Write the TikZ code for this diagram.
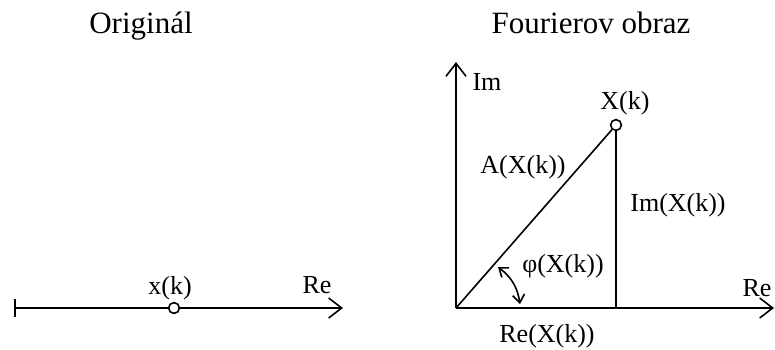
\documentclass[tikz,border=0pt]{standalone}
\usepackage{fontspec}
\setmainfont{Liberation Serif}
\usetikzlibrary{arrows.meta}

\begin{document}
\begin{tikzpicture}[x=0.5pt,y=-0.5pt,line width=0.8pt,
axis/.style={-{Straight Barb[length=6.5pt,width=10pt]}},
lbl/.style={font=\fontsize{13}{15}\selectfont,inner sep=1pt},
ttl/.style={font=\fontsize{15.5}{18}\selectfont,anchor=base},
pt/.style={circle,draw,fill=white,inner sep=0pt,minimum size=5.4pt}]
\useasboundingbox(0,0)rectangle(775,349);
\node[ttl](orig)at(141,33){Originál};
\node[ttl](four)at(591,33){Fourierov obraz};
% original
\coordinate(l0)at(14,308);
\coordinate(lre)at(343,308);
\draw[{Bar[width=9pt]}-{Straight Barb[length=6.5pt,width=10pt]}](l0)--(lre);
\node[pt](xk)at(174,308){};
\node[lbl](xklbl)at(170,288){x(k)};
\node[lbl](lrelbl)at(317,285){Re};
% Fourier image
\coordinate(o)at(456,308);
\coordinate(im)at(456,62);
\coordinate(re)at(774,308);
\coordinate(Xre)at(616,308);
\coordinate(phi1)at(520,304);
\coordinate(phi2)at(498,267);
\draw[axis](o)--(im);
\draw[axis](o)--(re);
\node[pt](X)at(616,125){};
\draw(o)--(X);
\draw(X)--(Xre);
\draw[{Straight Barb[length=4pt,width=6pt]}-{Straight Barb[length=4pt,width=6pt]}](phi1)to[bend right=22](phi2);
\node[lbl](imlbl)at(487,82){Im};
\node[lbl](Xlbl)at(625,103){X(k)};
\node[lbl](alb)at(523,167){A(X(k))};
\node[lbl](imx)at(678,205){Im(X(k))};
\node[lbl](phi)at(563,266){φ(X(k))};
\node[lbl](rex)at(547,336){Re(X(k))};
\node[lbl](relbl)at(757,288){Re};
\end{tikzpicture}
\end{document}
